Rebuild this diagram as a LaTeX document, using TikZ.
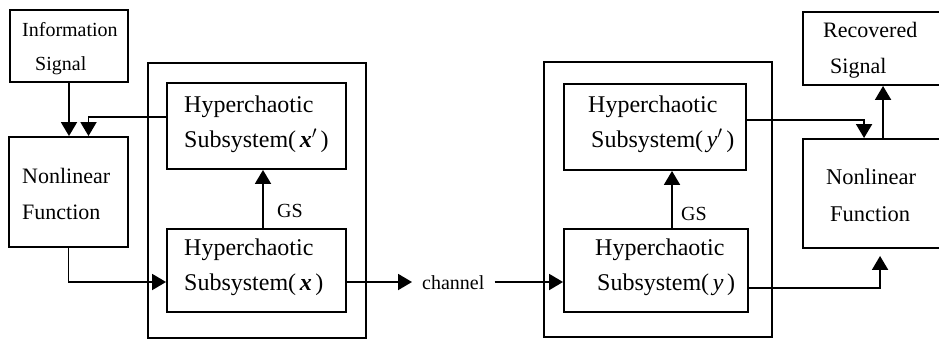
\documentclass[tikz,border=0pt]{standalone}
\usepackage{fontspec}
\setmainfont{Liberation Serif}
\usetikzlibrary{arrows.meta}
\begin{document}
\begin{tikzpicture}[x=1pt,y=-1pt,
  box/.style={draw,line width=1.9pt,inner sep=0pt},
  arr/.style={line width=1.9pt,-{Triangle[length=14pt,width=16pt]}},
  txt/.style={anchor=base west,inner sep=0pt},
  small/.style={txt,font=\fontsize{20}{20}\selectfont},
  mid/.style={txt,font=\fontsize{22}{22}\selectfont},
  big/.style={txt,font=\fontsize{24}{24}\selectfont}]
\useasboundingbox (0,0) rectangle (939,339);
\clip (0,0) rectangle (939,339);

% boxes
\node[box,minimum width=118pt,minimum height=72pt]  (info)   at (69,46)     {};
\node[box,minimum width=119pt,minimum height=110pt] (nlL)    at (68.5,192)  {};
\node[box,minimum width=218pt,minimum height=275pt] (frameL) at (257,200.5) {};
\node[box,minimum width=179pt,minimum height=86pt]  (xp)     at (256.5,126) {};
\node[box,minimum width=179pt,minimum height=83pt]  (xb)     at (256.5,270.5) {};
\node[box,minimum width=228pt,minimum height=275pt] (frameR) at (658,199.5) {};
\node[box,minimum width=182pt,minimum height=86pt]  (yp)     at (655,127)   {};
\node[box,minimum width=184pt,minimum height=83pt]  (yb)     at (656,270.5) {};
\node[box,minimum width=147pt,minimum height=73pt]  (rec)    at (876.5,48.5) {};
\node[box,minimum width=147pt,minimum height=109pt] (nlR)    at (876.5,193.5) {};

% labels
\node[small] (t1) at (22,37) {Information};
\node[small] (t2) at (35,71) {Signal};
\node[mid] (t3) at (22,183) {Nonlinear};
\node[mid] (t4) at (22,219) {Function};
\node[big] (t5) at (184,113) {Hyperchaotic};
\node[big] (t6) at (184,148) {Subsystem(\hspace{0.15em}\textbf{\textit{x}}$'$\hspace{0.15em})};
\node[big] (t7) at (184,255) {Hyperchaotic};
\node[big] (t8) at (184,290) {Subsystem(\hspace{0.15em}\textbf{\textit{x}}\hspace{0.15em})};
\node[big] (t9) at (588,113) {Hyperchaotic};
\node[big] (t10) at (591,148) {Subsystem(\hspace{0.15em}\textit{y}$'$\hspace{0.15em})};
\node[big] (t11) at (595,255) {Hyperchaotic};
\node[big] (t12) at (597,290) {Subsystem(\hspace{0.15em}\textit{y}\hspace{0.15em})};
\node[small] (gs1) at (277,218) {GS};
\node[small] (gs2) at (681,220) {GS};
\node[mid] (t13) at (823,38) {Recovered};
\node[mid] (t14) at (830,74) {Signal};
\node[mid,font=\fontsize{22.5}{22.5}\selectfont] (t15) at (826,185) {Nonlinear};
\node[mid,font=\fontsize{22.5}{22.5}\selectfont] (t16) at (830,222) {Function};
\node[small,inner xsep=10pt] (ch) at (412,289) {channel};

% connectors
\draw[arr] (info.south) -- (info.south |- nlL.north);
\coordinate (fbs) at ([yshift=9pt]xp.west);
\draw[arr] (fbs) -| ([xshift=20pt]nlL.north);
\coordinate (xin) at ([yshift=-11.5pt]xb.west);
\draw[arr] (nlL.south) |- (xin);
\draw[arr] ([xshift=6.5pt]xb.north) -- ([xshift=6.5pt]xp.south);
\coordinate (xout) at ([yshift=-11.5pt]xb.east);
\draw[arr] (xout) -- (xout -| ch.west);
\coordinate (yin) at ([yshift=-11.5pt]yb.west);
\draw[arr] (yin -| ch.east) -- (yin);
\coordinate (gsr) at ([xshift=16pt]yb.north);
\draw[arr] (gsr) -- (gsr |- yp.south);
\coordinate (yout) at ([yshift=-17.5pt]yb.east);
\draw[arr,shorten >=7pt] (yout) -| ([xshift=78pt]nlR.south west);
\coordinate (ypo) at ([yshift=7pt]yp.east);
\draw[arr] (ypo) -| ([xshift=62pt]nlR.north west);
\draw[arr] ([xshift=81pt]nlR.north west) -- ([xshift=81pt]rec.south west);
\end{tikzpicture}
\end{document}
